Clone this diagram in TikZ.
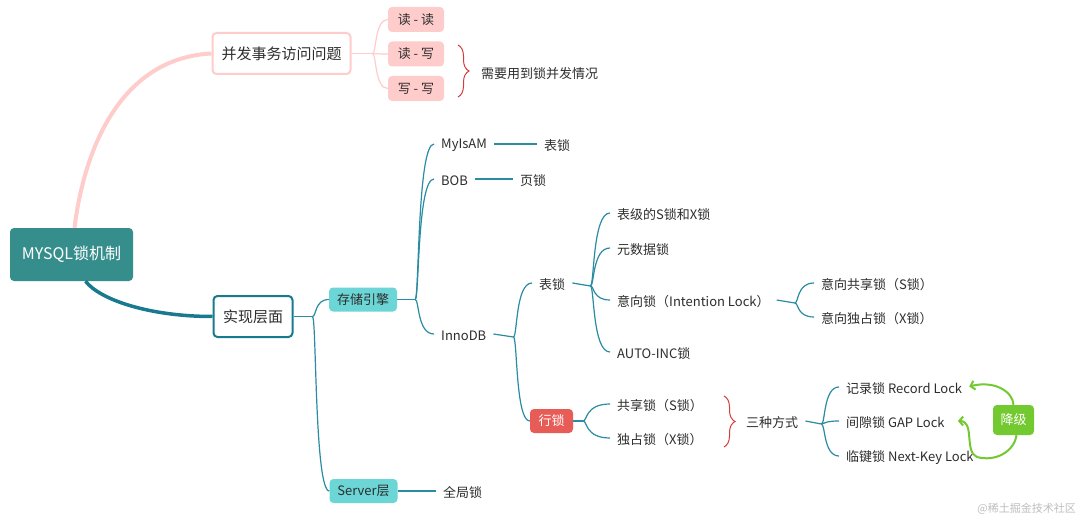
\documentclass[tikz,border=0pt]{standalone}
\usepackage{fontspec}
\setmainfont{Noto Sans CJK SC}
\usetikzlibrary{calc,arrows.meta,decorations.pathreplacing}
\newcommand\myfs[1]{\fontsize{#1}{#1}\selectfont}
\definecolor{txt}{RGB}{45,45,45}
\definecolor{rootc}{RGB}{54,142,140}
\definecolor{tealdark}{RGB}{24,122,142}
\definecolor{tealline}{RGB}{42,140,162}
\definecolor{pinkc}{RGB}{255,204,204}
\definecolor{cyanc}{RGB}{108,214,214}
\definecolor{redc}{RGB}{232,92,88}
\definecolor{greenc}{RGB}{115,201,48}
\definecolor{bracec}{RGB}{214,60,60}
\definecolor{wmc}{RGB}{190,190,190}
\tikzset{
  box/.style={rounded corners=4pt, inner sep=0pt, align=center, text=txt},
  rootbox/.style={box, fill=rootc, text=white, minimum width=123pt, minimum height=53pt, font=\myfs{16}},
  lvlbox/.style={box, fill=white, line width=2pt, minimum height=41pt, font=\myfs{15}},
  pinkbox/.style={box, fill=pinkc, minimum width=56pt, minimum height=25pt, font=\myfs{13}},
  cyanbox/.style={box, fill=cyanc, minimum width=68pt, minimum height=24pt, font=\myfs{13}},
  redbox/.style={box, fill=redc, text=white, minimum width=43pt, minimum height=24pt, font=\myfs{13}},
  greenbox/.style={box, fill=greenc, text=white, minimum width=41pt, minimum height=30pt, font=\myfs{13}},
  leaf/.style={anchor=west, inner xsep=7pt, inner ysep=2pt, text=txt, font=\myfs{13}, yshift=-1.5pt},
  conn/.style={draw=tealline, line width=1.2pt},
  pinkline/.style={draw=pinkc, line width=1.2pt},
  br/.style={to path={.. controls ($(\tikztostart)+(4,0)$) and ($(\tikztostart |- \tikztotarget)+(2,0)$) .. (\tikztotarget)}},
  greenarrow/.style={draw=greenc, line width=2pt, -{Straight Barb[length=4pt,width=9pt]}},
  bracestyle/.style={draw=bracec, line width=1pt, decorate},
}
\begin{document}
\begin{tikzpicture}[x=1pt,y=-1pt]
\fill[white] (0,0) rectangle (1080,519);
\useasboundingbox (0,0) rectangle (1080,519);

% main nodes
\node[rootbox] (root) at (71.5,254.5) {MYSQL锁机制};
\node[lvlbox, draw=pinkc, minimum width=138pt] (conc) at (281.5,53.5) {并发事务访问问题};
\node[lvlbox, draw=tealdark, minimum width=79pt] (impl) at (253,316.5) {实现层面};

% concurrency branch
\node[pinkbox] (r1) at (416,19.5) {读 - 读};
\node[pinkbox] (r2) at (416,54) {读 - 写};
\node[pinkbox] (r3) at (416,88.5) {写 - 写};
\node[leaf] (need) at (474,72) {需要用到锁并发情况};

% implementation branch
\node[cyanbox] (store) at (363,299.5) {存储引擎};
\node[cyanbox] (server) at (363.5,491) {Server层};
\node[leaf] (glob) at (436,491) {全局锁};
\node[leaf] (mya) at (434,144) {MyIsAM};
\node[leaf] (myal) at (537,144) {表锁};
\node[leaf] (bob) at (434,179) {BOB};
\node[leaf] (bobl) at (513,179) {页锁};
\node[leaf] (inno) at (434,334) {InnoDB};
\node[leaf] (tbl) at (532,283) {表锁};
\node[redbox] (row) at (551.5,421) {行锁};
\node[leaf] (t1) at (610,213) {表级的S锁和X锁};
\node[leaf] (t2) at (610,248) {元数据锁};
\node[leaf] (t3) at (610,300) {意向锁（Intention Lock）};
\node[leaf] (t4) at (610,352) {AUTO-INC锁};
\node[leaf] (is) at (814,283) {意向共享锁（S锁）};
\node[leaf] (ix) at (814,317) {意向独占锁（X锁）};
\node[leaf] (sl) at (610,404) {共享锁（S锁）};
\node[leaf] (xl) at (610,438) {独占锁（X锁）};
\node[leaf] (three) at (739,421) {三种方式};
\node[leaf] (rec) at (839,387) {记录锁 Record Lock};
\node[leaf] (gap) at (839,421) {间隙锁 GAP Lock};
\node[leaf] (nk) at (839,456) {临键锁 Next-Key Lock};
\node[greenbox] (jj) at (1013.5,420) {降级};
\node[anchor=east, inner sep=0pt, text=wmc, font=\myfs{11}] (wm) at (1076,509) {@稀土掘金技术社区};

% thick main connectors
\draw[draw=pinkc, line width=4pt] ($(root.north)+(3,0)$) .. controls (84,150) and (120,58) .. (conc.west);
\draw[draw=tealdark, line width=3.5pt] ($(root.south)+(14,0)$) .. controls (100,300) and (150,316.5) .. (impl.west);

% junctions
\coordinate (j1) at ($(impl.east)+(19,0)$);
\coordinate (j2) at ($(store.east)+(18,0)$);
\coordinate (j3) at ($(inno.east)+(20,1.5)$);
\coordinate (j4) at ($(tbl.east)+(18,1.5)$);
\coordinate (j5) at ($(t3.east)+(18,1.5)$);
\coordinate (j6) at ($(row.east)+(10,0)$);
\coordinate (j7) at ($(three.east)+(16,1.5)$);
\coordinate (j8) at ($(conc.east)+(21,0)$);

% pink branch
\draw[pinkline] (conc.east) -- (j8);
\draw[pinkline,br] (j8) to (r1.west);
\draw[pinkline,br] (j8) to (r2.west);
\draw[pinkline,br] (j8) to (r3.west);

% teal branches
\draw[conn] (impl.east) -- (j1);
\draw[conn,br] (j1) to (store.west);
\draw[conn,br] (j1) to (server.west);
\draw[conn] (server.east) -- ($(glob.west)+(0,-1.5)$);
\draw[conn] (store.east) -- (j2);
\draw[conn,br] (j2) to ($(mya.west)+(0,-1.5)$);
\draw[conn,br] (j2) to ($(bob.west)+(0,-1.5)$);
\draw[conn,br] (j2) to ($(inno.west)+(0,-1.5)$);
\draw[conn] ($(mya.east)+(0,-1.5)$) -- ($(myal.west)+(0,-1.5)$);
\draw[conn] ($(bob.east)+(0,-1.5)$) -- ($(bobl.west)+(0,-1.5)$);
\draw[conn] ($(inno.east)+(0,-1.5)$) -- (j3);
\draw[conn,br] (j3) to ($(tbl.west)+(0,-1.5)$);
\draw[conn,br] (j3) to (row.west);
\draw[conn] ($(tbl.east)+(0,-1.5)$) -- (j4);
\draw[conn,br] (j4) to ($(t1.west)+(0,-1.5)$);
\draw[conn,br] (j4) to ($(t2.west)+(0,-1.5)$);
\draw[conn,br] (j4) to ($(t3.west)+(0,-1.5)$);
\draw[conn,br] (j4) to ($(t4.west)+(0,-1.5)$);
\draw[conn] ($(t3.east)+(0,-1.5)$) -- (j5);
\draw[conn,br] (j5) to ($(is.west)+(0,-1.5)$);
\draw[conn,br] (j5) to ($(ix.west)+(0,-1.5)$);
\draw[conn] (row.east) -- (j6);
\draw[conn,br] (j6) to ($(sl.west)+(0,-1.5)$);
\draw[conn,br] (j6) to ($(xl.west)+(0,-1.5)$);
\draw[conn] ($(three.east)+(0,-1.5)$) -- (j7);
\draw[conn,br] (j7) to ($(rec.west)+(0,-1.5)$);
\draw[conn,br] (j7) to ($(gap.west)+(0,-1.5)$);
\draw[conn,br] (j7) to ($(nk.west)+(0,-1.5)$);

% braces
\draw[bracestyle, decoration={brace, amplitude=11pt}] (458,45) -- (458,97);
\draw[bracestyle, decoration={brace, amplitude=11pt}] (724,396) -- (724,447);

% green arrows
\draw[greenarrow] (jj.north) .. controls (1013,392) and (995,380) .. ($(rec.east)+(0,-2)$);
\draw[greenarrow] ($(jj.south)+(3,0)$) .. controls (1014,452) and (995,462) .. (977,457) .. controls (964,452) and (975,421) .. ($(gap.east)+(6,-1.5)$);
\end{tikzpicture}
\end{document}
